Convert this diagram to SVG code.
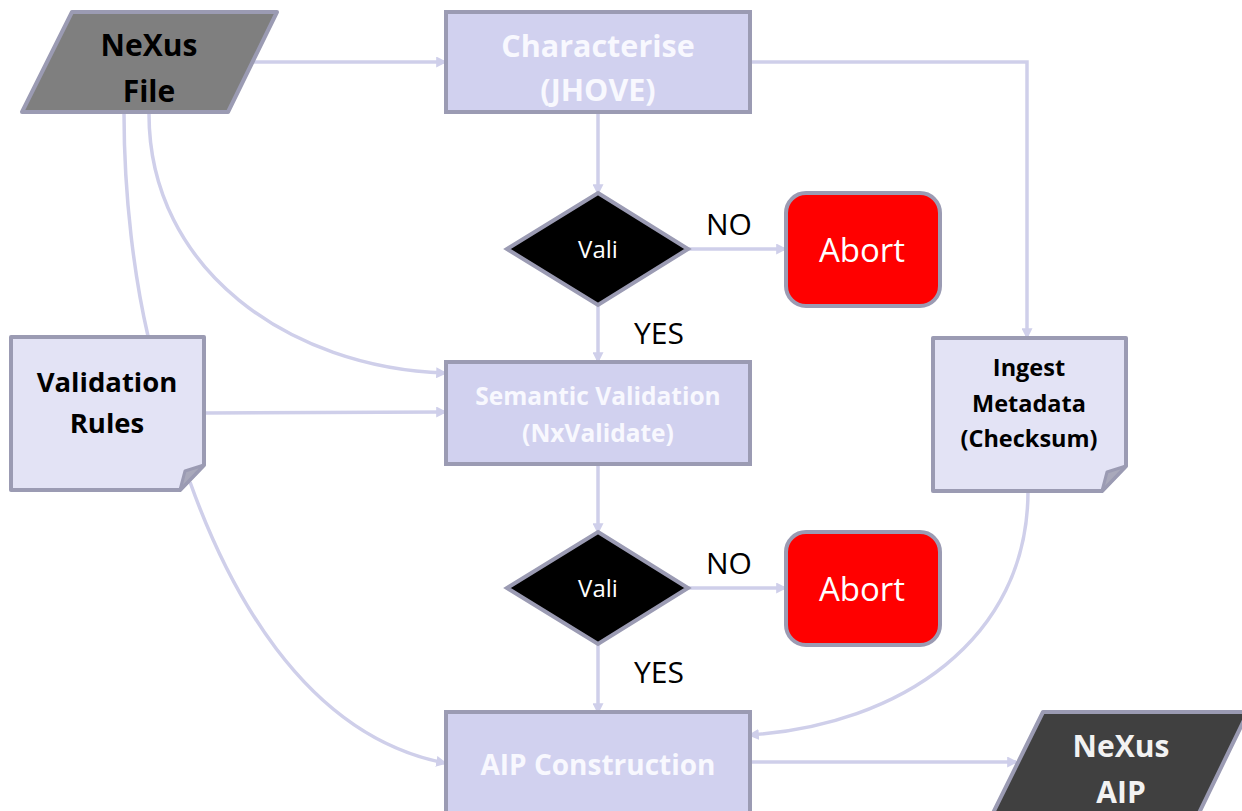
<svg xmlns="http://www.w3.org/2000/svg" width="1242" height="811" viewBox="0 0 1242 811">
<defs>
<marker id="arr" viewBox="0 0 10 10" refX="8" refY="5" markerWidth="11" markerHeight="11" markerUnits="userSpaceOnUse" orient="auto">
<path d="M0,0 L10,5 L0,10 z" fill="#cfcfea"/>
</marker>
<style>
.c{fill:none;stroke:#cfcfea;stroke-width:3.5}
.box{fill:#d1d1ef;stroke:#9b9bb3;stroke-width:4}
.doc{fill:#e3e3f5;stroke:#9b9bb3;stroke-width:4;stroke-linejoin:round}
.fold{fill:#a9a9bb;stroke:#9b9bb3;stroke-width:3;stroke-linejoin:round}
.dia{fill:#000;stroke:#9b9bb3;stroke-width:4}
.abort{fill:#ff0000;stroke:#9b9bb3;stroke-width:4}
text{font-family:"Open Sans","Noto Sans","Liberation Sans",sans-serif;text-anchor:middle}
.wb{fill:#f8f8fe;font-weight:bold}
.bb{fill:#000;font-weight:bold}
.lbl{fill:#000;font-size:30px}
</style>
</defs>
<g id="connectors">
<path class="c" d="M254,62 L445,62" marker-end="url(#arr)"/>
<path class="c" d="M750,62 L1027,62 L1027,337" marker-end="url(#arr)"/>
<path class="c" d="M598,113 L598,193" marker-end="url(#arr)"/>
<path class="c" d="M688,249 L785,249" marker-end="url(#arr)"/>
<path class="c" d="M598,305 L598,361" marker-end="url(#arr)"/>
<path class="c" d="M124,113 C124,200 135,280 148,336"/>
<path class="c" d="M149,114 C149,270 290,368 445,373" marker-end="url(#arr)"/>
<path class="c" d="M205,413 L445,412" marker-end="url(#arr)"/>
<path class="c" d="M598,465 L598,532" marker-end="url(#arr)"/>
<path class="c" d="M688,588 L785,588" marker-end="url(#arr)"/>
<path class="c" d="M598,644 L598,712" marker-end="url(#arr)"/>
<path class="c" d="M190,482 C225,580 300,735 445,763" marker-end="url(#arr)"/>
<path class="c" d="M1028,491 C1028,640 900,725 750,735" marker-end="url(#arr)"/>
<path class="c" d="M750,762 L1016,762" marker-end="url(#arr)"/>
</g>
<g id="nexus-file">
<polygon points="72,12 277,12 228,112 22,112" fill="#7f7f7f" stroke="#9b9bb3" stroke-width="4" stroke-linejoin="round"/>
<text class="bb" x="149" y="56" font-size="30">NeXus</text>
<text class="bb" x="149" y="102" font-size="30">File</text>
</g>
<g id="characterise">
<rect class="box" x="446" y="12" width="304" height="100"/>
<text class="wb" x="598" y="57" font-size="30.5">Characterise</text>
<text class="wb" x="598" y="101" font-size="30.5">(JHOVE)</text>
</g>
<g id="decision1">
<polygon class="dia" points="598,193 688,249 598,305 507,249"/>
<text x="598" y="258" font-size="24" fill="#fff">Vali</text>
</g>
<g id="abort1">
<rect class="abort" x="786" y="193" width="154" height="113" rx="20"/>
<text x="862" y="262" font-size="33" fill="#fff">Abort</text>
</g>
<text class="lbl" x="729" y="235">NO</text>
<text class="lbl" x="659" y="344">YES</text>
<g id="validation-rules">
<path class="doc" d="M11,337 L204,337 L204,465 L180,490 L11,490 Z"/>
<path class="fold" d="M204,465 L185,471 L180,490 Z"/>
<text class="bb" x="107" y="392" font-size="27.5">Validation</text>
<text class="bb" x="107" y="433" font-size="27.5">Rules</text>
</g>
<g id="semantic-validation">
<rect class="box" x="446" y="362" width="304" height="102"/>
<text class="wb" x="598" y="405" font-size="24.5">Semantic Validation</text>
<text class="wb" x="598" y="442" font-size="24.5">(NxValidate)</text>
</g>
<g id="ingest-metadata">
<path class="doc" d="M933,338 L1126,338 L1126,466 L1102,491 L933,491 Z"/>
<path class="fold" d="M1126,466 L1107,472 L1102,491 Z"/>
<text class="bb" x="1029" y="376" font-size="23.5">Ingest</text>
<text class="bb" x="1029" y="412" font-size="23.5">Metadata</text>
<text class="bb" x="1029" y="447" font-size="23.5">(Checksum)</text>
</g>
<g id="decision2">
<polygon class="dia" points="598,532 688,588 598,644 507,588"/>
<text x="598" y="597" font-size="24" fill="#fff">Vali</text>
</g>
<g id="abort2">
<rect class="abort" x="786" y="532" width="154" height="113" rx="20"/>
<text x="862" y="601" font-size="33" fill="#fff">Abort</text>
</g>
<text class="lbl" x="729" y="574">NO</text>
<text class="lbl" x="659" y="683">YES</text>
<g id="aip-construction">
<rect class="box" x="446" y="712" width="304" height="110"/>
<text class="wb" x="598" y="775" font-size="28">AIP Construction</text>
</g>
<g id="nexus-aip">
<polygon points="1043,712 1248,712 1199,813 993,813" fill="#404040" stroke="#9b9bb3" stroke-width="4" stroke-linejoin="round"/>
<text class="wb" x="1121" y="757" font-size="30" style="fill:#f2f2f2">NeXus</text>
<text class="wb" x="1121" y="803" font-size="30" style="fill:#f2f2f2">AIP</text>
</g>
</svg>
